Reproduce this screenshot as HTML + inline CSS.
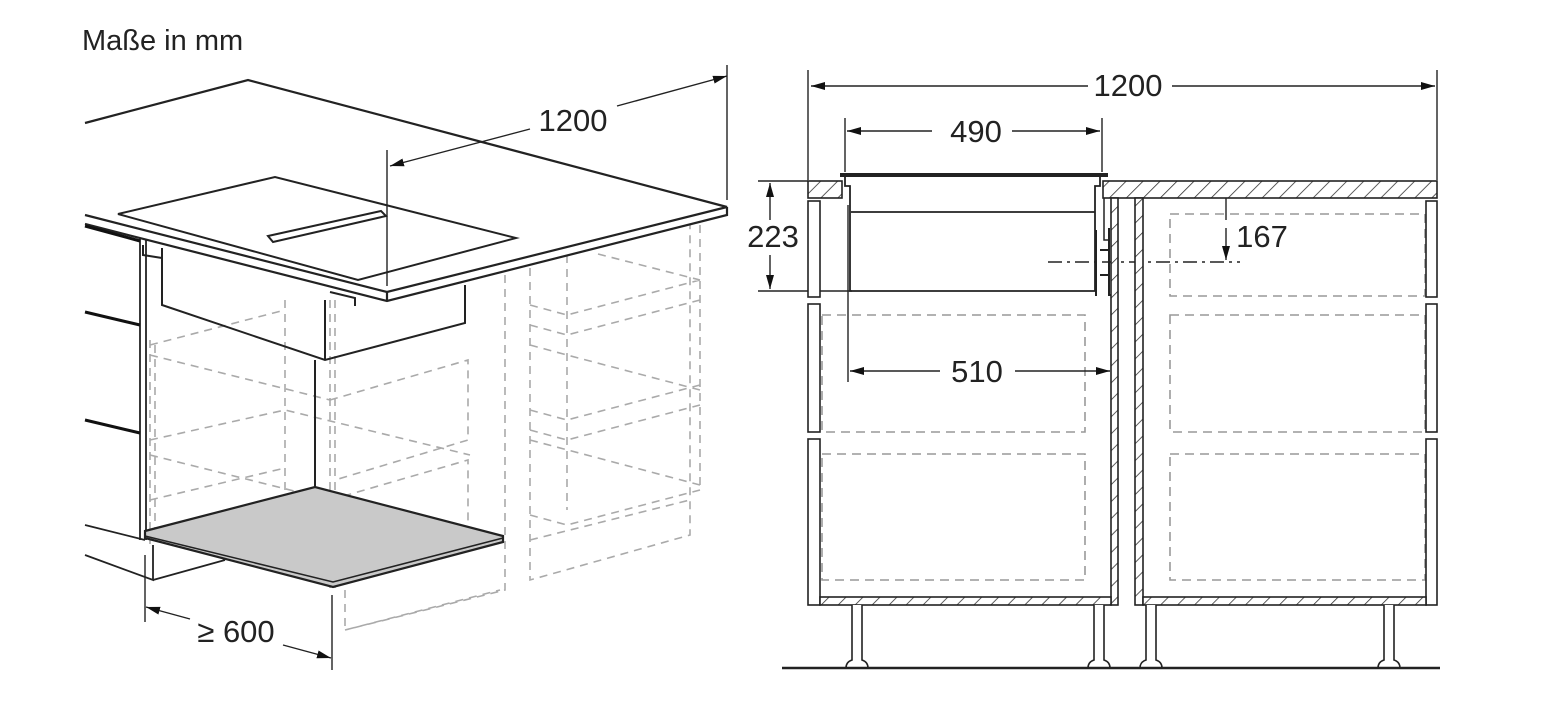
<!DOCTYPE html>
<html><head><meta charset="utf-8"><style>
html,body{margin:0;padding:0;background:#fff;}
svg{display:block;}
text{font-family:"Liberation Sans",sans-serif;fill:#222;}
</style></head><body>
<svg width="1551" height="714" viewBox="0 0 1551 714" xmlns="http://www.w3.org/2000/svg">
<defs>
<pattern id="h" width="12" height="12" patternUnits="userSpaceOnUse" patternTransform="rotate(45)">
<rect width="12" height="12" fill="#fff"/><line x1="0" y1="0" x2="0" y2="12" stroke="#333" stroke-width="1.6"/></pattern>
<marker id="a" markerWidth="14" markerHeight="8" refX="14" refY="4" orient="auto" markerUnits="userSpaceOnUse"><path d="M0,0L14,4L0,8z" fill="#111"/></marker>
<marker id="b" markerWidth="14" markerHeight="8" refX="0" refY="4" orient="auto" markerUnits="userSpaceOnUse"><path d="M14,0L0,4L14,8z" fill="#111"/></marker>
</defs>
<rect width="1551" height="714" fill="#fff"/>
<text x="82" y="50" font-size="29">Maße in mm</text>

<!-- LEFT ISOMETRIC -->
<g fill="none" stroke="#aaa" stroke-width="1.6" stroke-dasharray="8,6">
<path d="M150,340 L150,545 M155,345 L155,540"/>
<path d="M150,345 L285,310 M150,355 L330,400 M150,440 L285,410 L470,455 M150,455 L330,500 M150,500 L285,468"/>
<path d="M285,300 L285,490 M330,300 L330,590 M335,300 L335,590"/>
<path d="M330,400 L468,360 L468,440 L335,480 M330,500 L468,460 L468,540"/>
<path d="M345,590 L345,630 L500,590 M505,275 L505,590 L345,630"/>
<path d="M530,268 L530,580 L690,535 L690,225 M567,255 L567,510 M530,305 L567,315 L700,280 M530,325 L567,335 L700,300 M530,345 L567,355 L700,390 M530,410 L567,420 L700,385 M530,430 L567,440 L700,405 M530,440 L700,485 M530,515 L567,525 L700,490 M530,540 L690,500 M598,254 L700,280 M700,225 L700,490"/>
</g>
<path d="M85,123 L248,80 L727,207 L387,292 L85,215" fill="#fff" stroke="#222" stroke-width="2.2"/>
<path d="M85,224 L387,301 L727,215 L727,207 M387,292 L387,301" fill="none" stroke="#222" stroke-width="2.2"/>
<path d="M118,214 L275,177 L516,238 L358,280 Z" fill="#fff" stroke="#222" stroke-width="2"/>
<path d="M268,236 L381,211 L386,216 L273,242 Z" fill="#fff" stroke="#222" stroke-width="2"/>
<path d="M162,248 L162,305 L325,360 L465,323 L465,285 M325,300 L325,360 M143,245 L143,255 L162,258 M330,292 L355,298 L355,306" fill="none" stroke="#222" stroke-width="2"/>
<path d="M315,360 L315,488" stroke="#222" stroke-width="2"/>
<path d="M140,238 L140,540 M146,240 L146,540" stroke="#222" stroke-width="1.8"/>
<path d="M85,226 L140,241 M85,312 L140,325 M85,420 L140,433" stroke="#111" stroke-width="3"/>
<path d="M85,525 L145,540 M85,555 L153,580 L153,545 M153,580 L225,560" stroke="#222" stroke-width="1.8" fill="none"/>
<path d="M145,531 L315,487 L503,536 L503,542 L333,587 L145,538 Z" fill="#c9c9c9" stroke="#222" stroke-width="2.2"/>
<path d="M145,536 L333,582 L503,538" fill="none" stroke="#222" stroke-width="1.5"/>
<g stroke="#222" stroke-width="1.4" fill="none">
<path d="M387,150 L387,286 M727,65 L727,200"/>
<path d="M390,166 L530,129" marker-start="url(#b)"/>
<path d="M617,106 L727,76" marker-end="url(#a)"/>
<path d="M145,555 L145,622 M332,595 L332,670"/>
<path d="M146,607 L190,619" marker-start="url(#b)"/>
<path d="M283,645 L331,658" marker-end="url(#a)"/>
</g>
<text x="573" y="131" font-size="31" text-anchor="middle">1200</text>
<text x="236" y="642" font-size="31" text-anchor="middle">≥ 600</text>

<!-- RIGHT ELEVATION -->
<g fill="none" stroke="#999" stroke-width="1.6" stroke-dasharray="9,6">
<rect x="822" y="315" width="263" height="117"/>
<rect x="822" y="454" width="263" height="126"/>
<rect x="1170" y="214" width="255" height="82"/>
<rect x="1170" y="315" width="255" height="117"/>
<rect x="1170" y="454" width="255" height="126"/>
</g>
<g stroke="#222" stroke-width="1.4" fill="none">
<path d="M808,70 L808,180 M1437,70 L1437,180 M845,118 L845,172 M1102,118 L1102,172"/>
<path d="M811,86 L1088,86" marker-start="url(#b)"/>
<path d="M1172,86 L1435,86" marker-end="url(#a)"/>
<path d="M847,131 L932,131" marker-start="url(#b)"/>
<path d="M1012,131 L1100,131" marker-end="url(#a)"/>
<path d="M758,181 L808,181 M758,291 L852,291"/>
<path d="M770,183 L770,220" marker-start="url(#b)"/>
<path d="M770,255 L770,289" marker-end="url(#a)"/>
<path d="M1226,184 L1226,220" marker-start="url(#b)"/>
<path d="M1226,228 L1226,260" marker-end="url(#a)"/>
<path d="M848,205 L848,382"/>
<path d="M850,371 L940,371" marker-start="url(#b)"/>
<path d="M1015,371 L1110,371" marker-end="url(#a)"/>
<path d="M1048,262 L1240,262" stroke-dasharray="14,5,3,5"/>
</g>
<text x="1128" y="96" font-size="31" text-anchor="middle">1200</text>
<text x="976" y="142" font-size="31" text-anchor="middle">490</text>
<text x="773" y="247" font-size="31" text-anchor="middle">223</text>
<text x="1262" y="247" font-size="31" text-anchor="middle">167</text>
<text x="977" y="382" font-size="31" text-anchor="middle">510</text>
<rect x="808" y="181" width="34" height="17" fill="url(#h)" stroke="#222" stroke-width="1.6"/>
<rect x="1103" y="181" width="334" height="17" fill="url(#h)" stroke="#222" stroke-width="1.6"/>
<path d="M840,175 L1108,175" stroke="#222" stroke-width="4"/>
<path d="M845,177 L845,186 L850,186 L850,291 L1095,291 L1095,186 L1100,186 L1100,177 M851,212 L1095,212" fill="none" stroke="#222" stroke-width="1.8"/>
<path d="M1096,230 L1096,296 M1109,228 L1109,295 L1115,295 M1100,250 L1109,250 M1100,275 L1109,275" stroke="#222" stroke-width="2" fill="none"/>
<path d="M1104,198 L1104,240 L1110,240" stroke="#222" stroke-width="1.5" fill="none"/>
<g fill="#fff" stroke="#222" stroke-width="1.6">
<rect x="808" y="201" width="12" height="96"/><rect x="808" y="304" width="12" height="128"/><rect x="808" y="439" width="12" height="166"/>
<rect x="1426" y="201" width="11" height="96"/><rect x="1426" y="304" width="11" height="128"/><rect x="1426" y="439" width="11" height="166"/>
<rect x="1111" y="198" width="7" height="407" fill="url(#h)"/>
<rect x="1135" y="198" width="8" height="407" fill="url(#h)"/>
<rect x="820" y="597" width="291" height="8" fill="url(#h)"/>
<rect x="1143" y="597" width="283" height="8" fill="url(#h)"/>
</g>
<g fill="#fff" stroke="#222" stroke-width="1.6">
<path d="M852,605 L852,660 Q846,662 846,668 L868,668 Q868,662 862,660 L862,605"/>
<path d="M1094,605 L1094,660 Q1088,662 1088,668 L1110,668 Q1110,662 1104,660 L1104,605"/>
<path d="M1146,605 L1146,660 Q1140,662 1140,668 L1162,668 Q1162,662 1156,660 L1156,605"/>
<path d="M1384,605 L1384,660 Q1378,662 1378,668 L1400,668 Q1400,662 1394,660 L1394,605"/>
</g>
<path d="M782,668 L1440,668" stroke="#222" stroke-width="2.5"/>
</svg>
</body></html>
